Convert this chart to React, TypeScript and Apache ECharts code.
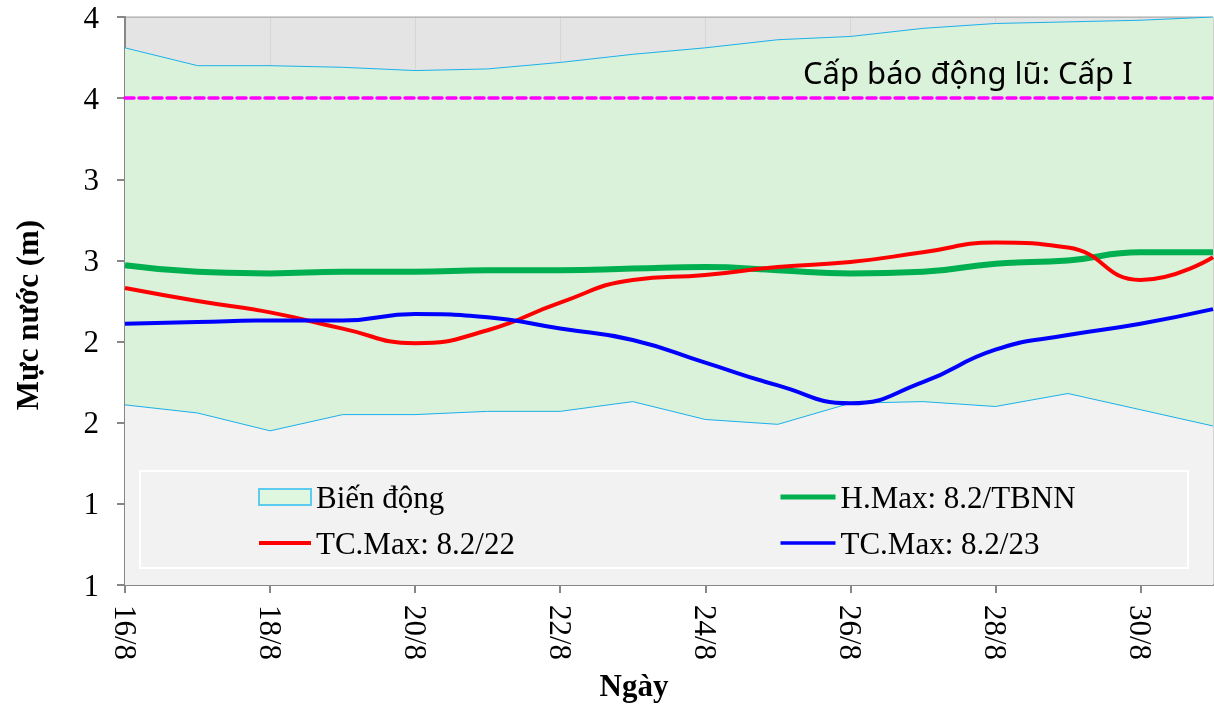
import React, { useEffect, useRef } from "react";
import * as echarts from "echarts";

const categories = ["16/8", "17/8", "18/8", "19/8", "20/8", "21/8", "22/8", "23/8", "24/8", "25/8", "26/8", "27/8", "28/8", "29/8", "30/8", "31/8"];
const maxValues = [3.81, 3.70, 3.70, 3.69, 3.67, 3.68, 3.72, 3.77, 3.81, 3.86, 3.88, 3.93, 3.96, 3.97, 3.98, 4.00];
const minValues = [1.61, 1.56, 1.45, 1.55, 1.55, 1.57, 1.57, 1.63, 1.52, 1.49, 1.62, 1.63, 1.60, 1.68, 1.58, 1.48];
const hMaxTBNN = [2.47, 2.43, 2.42, 2.43, 2.43, 2.44, 2.44, 2.45, 2.46, 2.44, 2.42, 2.43, 2.48, 2.50, 2.55, 2.55];
const tcMax22 = [2.33, 2.25, 2.18, 2.08, 1.99, 2.07, 2.24, 2.38, 2.41, 2.46, 2.49, 2.55, 2.61, 2.58, 2.38, 2.52];
const tcMax23 = [2.11, 2.12, 2.13, 2.13, 2.17, 2.15, 2.08, 2.01, 1.87, 1.73, 1.62, 1.75, 1.95, 2.04, 2.11, 2.20];
const alarmLevel = 3.5;
const alarmText = "Cấp báo động lũ: Cấp I";
const yTickLabels = ["1", "1", "2", "2", "3", "3", "4", "4"];
const Y_MIN = 0.5;
const Y_MAX = 4;
const Y_STEP = 0.5;

const SERIF = "'Liberation Serif', 'Times New Roman', serif";

export default function App() {
  const ref = useRef<HTMLDivElement>(null);

  useEffect(() => {
    if (!ref.current) return;
    const chart = echarts.init(ref.current, undefined, { renderer: "svg" });
    const bandDiff = maxValues.map((v, i) => +(v - minValues[i]).toFixed(3));

    const legendText = { fontFamily: SERIF, fontSize: 31, color: "#000", lineHeight: 32 };

    chart.setOption({
      animation: false,
      grid: {
        left: 125,
        right: 1,
        top: 17,
        bottom: 120,
        show: true,
        backgroundColor: "#e4e4e4",
        borderColor: "#a6a6a6",
        borderWidth: 1,
      },
      xAxis: {
        type: "category",
        data: categories,
        boundaryGap: false,
        axisLine: { lineStyle: { color: "#878787", width: 2 } },
        axisTick: { show: true, interval: 1, length: 8, lineStyle: { color: "#878787", width: 2 } },
        axisLabel: {
          interval: 1,
          rotate: -90,
          margin: 20,
          fontFamily: SERIF,
          fontSize: 31,
          color: "#000",
        },
        splitLine: { show: true, interval: 1, lineStyle: { color: "rgba(0,0,0,0.06)", width: 1 } },
      },
      yAxis: {
        type: "value",
        min: Y_MIN,
        max: Y_MAX,
        interval: Y_STEP,
        axisLine: { show: true, lineStyle: { color: "#878787", width: 2 } },
        axisTick: { show: true, length: 8, lineStyle: { color: "#878787", width: 2 } },
        axisLabel: {
          margin: 26,
          fontFamily: SERIF,
          fontSize: 31,
          color: "#000",
          formatter: (v: number) => yTickLabels[Math.round((v - Y_MIN) / Y_STEP)] ?? "",
        },
        splitLine: { show: true, lineStyle: { color: "rgba(0,0,0,0.06)", width: 1 } },
      },
      legend: [
        {
          left: 257,
          top: 481,
          padding: 0,
          z: 20,
          orient: "vertical",
          itemWidth: 52,
          itemHeight: 16,
          itemGap: 14,
          textStyle: legendText,
          data: [
            {
              name: "Biến động",
              icon: "rect",
              itemStyle: { color: "#dff7df", borderColor: "#5ccbef", borderWidth: 2, opacity: 1 },
            },
            {
              name: "TC.Max: 8.2/22",
              itemStyle: { opacity: 0 },
              lineStyle: { width: 4, color: "#ff0000" },
            },
          ],
        },
        {
          left: 778,
          top: 481,
          padding: 0,
          z: 20,
          orient: "vertical",
          itemWidth: 55,
          itemHeight: 16,
          itemGap: 14,
          textStyle: legendText,
          data: [
            {
              name: "H.Max: 8.2/TBNN",
              itemStyle: { opacity: 0 },
              lineStyle: { width: 5, color: "#00b050" },
            },
            {
              name: "TC.Max: 8.2/23",
              itemStyle: { opacity: 0 },
              lineStyle: { width: 3.5, color: "#0000ff" },
            },
          ],
        },
      ],
      graphic: [
        {
          type: "rect",
          z: 10,
          shape: { x: 140, y: 471, width: 1048, height: 97 },
          style: { fill: "#f2f2f2", stroke: "#ffffff", lineWidth: 2 },
        },
        {
          type: "text",
          z: 10,
          x: 803,
          y: 72,
          style: {
            text: alarmText,
            fontFamily: "'Noto Sans', 'Open Sans', sans-serif",
            fontSize: 31,
            fill: "#000",
            textVerticalAlign: "middle",
          },
        },
        {
          type: "text",
          z: 10,
          x: 27,
          y: 315,
          rotation: Math.PI / 2,
          style: {
            text: "Mực nước (m)",
            fontFamily: SERIF,
            fontSize: 31,
            fontWeight: "bold",
            fill: "#000",
            textAlign: "center",
            textVerticalAlign: "middle",
          },
        },
        {
          type: "text",
          z: 10,
          x: 634,
          y: 685,
          style: {
            text: "Ngày",
            fontFamily: SERIF,
            fontSize: 31,
            fontWeight: "bold",
            fill: "#000",
            textAlign: "center",
            textVerticalAlign: "middle",
          },
        },
      ],
      series: [
        {
          name: "base",
          type: "line",
          stack: "band",
          data: minValues,
          symbol: "none",
          lineStyle: { color: "#1cb0ea", width: 1 },
          itemStyle: { color: "#1cb0ea" },
          areaStyle: { color: "#f2f2f2", opacity: 1 },
          silent: true,
          z: 1,
        },
        {
          name: "Biến động",
          type: "line",
          stack: "band",
          data: bandDiff,
          symbol: "none",
          lineStyle: { color: "#1cb0ea", width: 1 },
          itemStyle: { color: "#dff7df", borderColor: "#5ccbef" },
          areaStyle: { color: "#daf1da", opacity: 1 },
          z: 1,
          markLine: {
            silent: true,
            symbol: "none",
            label: { show: false },
            lineStyle: { color: "#ff00ff", width: 3.5, type: [9, 5], cap: "round" },
            data: [{ yAxis: alarmLevel }],
          },
        },
        {
          name: "H.Max: 8.2/TBNN",
          type: "line",
          data: hMaxTBNN,
          smooth: true,
          symbol: "none",
          lineStyle: { color: "#00b050", width: 6 },
          itemStyle: { color: "#00b050" },
          z: 3,
        },
        {
          name: "TC.Max: 8.2/22",
          type: "line",
          data: tcMax22,
          smooth: true,
          symbol: "none",
          lineStyle: { color: "#ff0000", width: 4 },
          itemStyle: { color: "#ff0000" },
          z: 3,
        },
        {
          name: "TC.Max: 8.2/23",
          type: "line",
          data: tcMax23,
          smooth: true,
          symbol: "none",
          lineStyle: { color: "#0000ff", width: 4 },
          itemStyle: { color: "#0000ff" },
          z: 3,
        },
      ],
    });

    return () => chart.dispose();
  }, []);

  return (
    <div
      ref={ref}
      style={{ position: "fixed", left: 0, top: 0, width: 1214, height: 705 }}
    />
  );
}
